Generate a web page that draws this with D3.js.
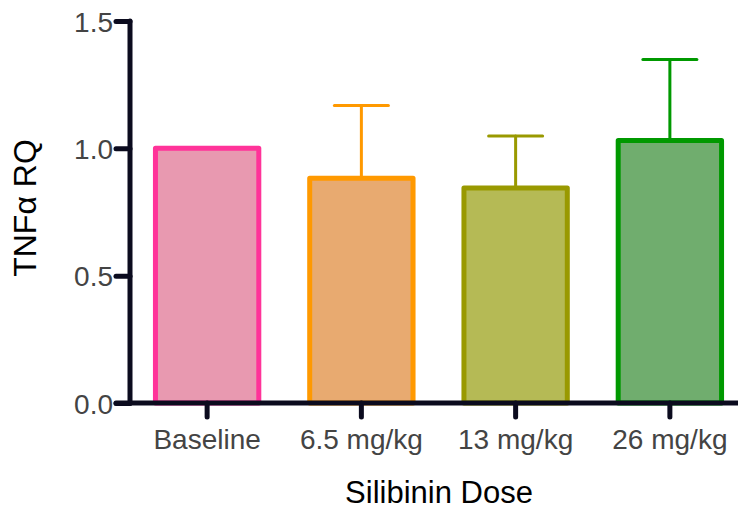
<!DOCTYPE html>
<html>
<head>
<meta charset="utf-8">
<script src="https://cdn.jsdelivr.net/npm/d3@7"></script>
<style>
  body { margin: 0; background: #fff; }
  svg text { font-family: "Liberation Sans", Arial, sans-serif; }
</style>
</head>
<body>
<div id="chart"></div>
<script>
// data
var doses = ["Baseline", "6.5 mg/kg", "13 mg/kg", "26 mg/kg"];
var rqMean = [1.0, 0.883, 0.844, 1.031];
var rqErr = [0, 0.285, 0.204, 0.318];
var yTicks = [0.0, 0.5, 1.0, 1.5];
var fillColors = ["#e899b0", "#e8aa70", "#b5ba55", "#70ad6e"];
var lineColors = ["#ff3399", "#ff9900", "#999900", "#009900"];

var width = 738, height = 510;
var axisColor = "#0b0b1e";

var svg = d3.select("#chart").append("svg")
    .attr("width", width).attr("height", height);

var x = d3.scaleBand()
    .domain(doses)
    .range([130, 747])
    .paddingInner(0.33)
    .paddingOuter(0.165);

var y = d3.scaleLinear().domain([0, 1.5]).range([403, 21]);

// bars
svg.selectAll(".bar")
    .data(doses)
    .enter().append("rect")
    .attr("class", "bar")
    .attr("x", function (d) { return x(d); })
    .attr("y", function (d, i) { return y(rqMean[i]); })
    .attr("width", x.bandwidth())
    .attr("height", function (d, i) { return y(0) - y(rqMean[i]); })
    .attr("fill", function (d, i) { return fillColors[i]; })
    .attr("stroke", function (d, i) { return lineColors[i]; })
    .attr("stroke-width", 5)
    .attr("stroke-linejoin", "round");

// error bars (upper only)
var capHalf = 27;
var err = svg.selectAll(".err")
    .data(doses.filter(function (d, i) { return rqErr[i] > 0; }))
    .enter().append("g")
    .attr("class", "err")
    .attr("stroke", function (d) { return lineColors[doses.indexOf(d)]; })
    .attr("stroke-width", 3)
    .attr("stroke-linecap", "round");

err.append("line")
    .attr("x1", function (d) { return x(d) + x.bandwidth() / 2; })
    .attr("x2", function (d) { return x(d) + x.bandwidth() / 2; })
    .attr("y1", function (d) { var i = doses.indexOf(d); return y(rqMean[i]) - 2.5; })
    .attr("y2", function (d) { var i = doses.indexOf(d); return y(rqMean[i] + rqErr[i]); });

err.append("line")
    .attr("x1", function (d) { return x(d) + x.bandwidth() / 2 - capHalf; })
    .attr("x2", function (d) { return x(d) + x.bandwidth() / 2 + capHalf; })
    .attr("y1", function (d) { var i = doses.indexOf(d); return y(rqMean[i] + rqErr[i]); })
    .attr("y2", function (d) { var i = doses.indexOf(d); return y(rqMean[i] + rqErr[i]); });

// y axis
var yAxis = svg.append("g")
    .attr("transform", "translate(130,0)")
    .call(d3.axisLeft(y).tickValues(yTicks).tickFormat(d3.format(".1f"))
        .tickSize(14).tickPadding(3));
yAxis.select(".domain").remove();
yAxis.append("line")
    .attr("x1", 0).attr("x2", 0)
    .attr("y1", y(1.5)).attr("y2", y(0))
    .attr("stroke", axisColor).attr("stroke-width", 5).attr("stroke-linecap", "round");
yAxis.selectAll(".tick line")
    .attr("stroke", axisColor).attr("stroke-width", 5).attr("stroke-linecap", "round");
yAxis.selectAll(".tick text")
    .attr("fill", "#444").style("font-size", "28px").attr("dy", "0.36em");

// x axis
var xAxis = svg.append("g")
    .attr("transform", "translate(0,403)")
    .call(d3.axisBottom(x).tickSize(14).tickPadding(12));
xAxis.select(".domain").remove();
xAxis.append("line")
    .attr("x1", 116).attr("x2", 740)
    .attr("y1", 0).attr("y2", 0)
    .attr("stroke", axisColor).attr("stroke-width", 5).attr("stroke-linecap", "round");
xAxis.selectAll(".tick line")
    .attr("stroke", axisColor).attr("stroke-width", 5).attr("stroke-linecap", "round");
xAxis.selectAll(".tick text")
    .attr("fill", "#444").style("font-size", "28px");

// axis titles
svg.append("text")
    .attr("x", 439).attr("y", 503)
    .attr("text-anchor", "middle")
    .style("font-size", "31px")
    .attr("fill", "#000")
    .text("Silibinin Dose");

svg.append("text")
    .attr("transform", "translate(36,208) rotate(-90)")
    .attr("text-anchor", "middle")
    .style("font-size", "32px")
    .attr("fill", "#000")
    .text("TNFα RQ");
</script>
</body>
</html>
